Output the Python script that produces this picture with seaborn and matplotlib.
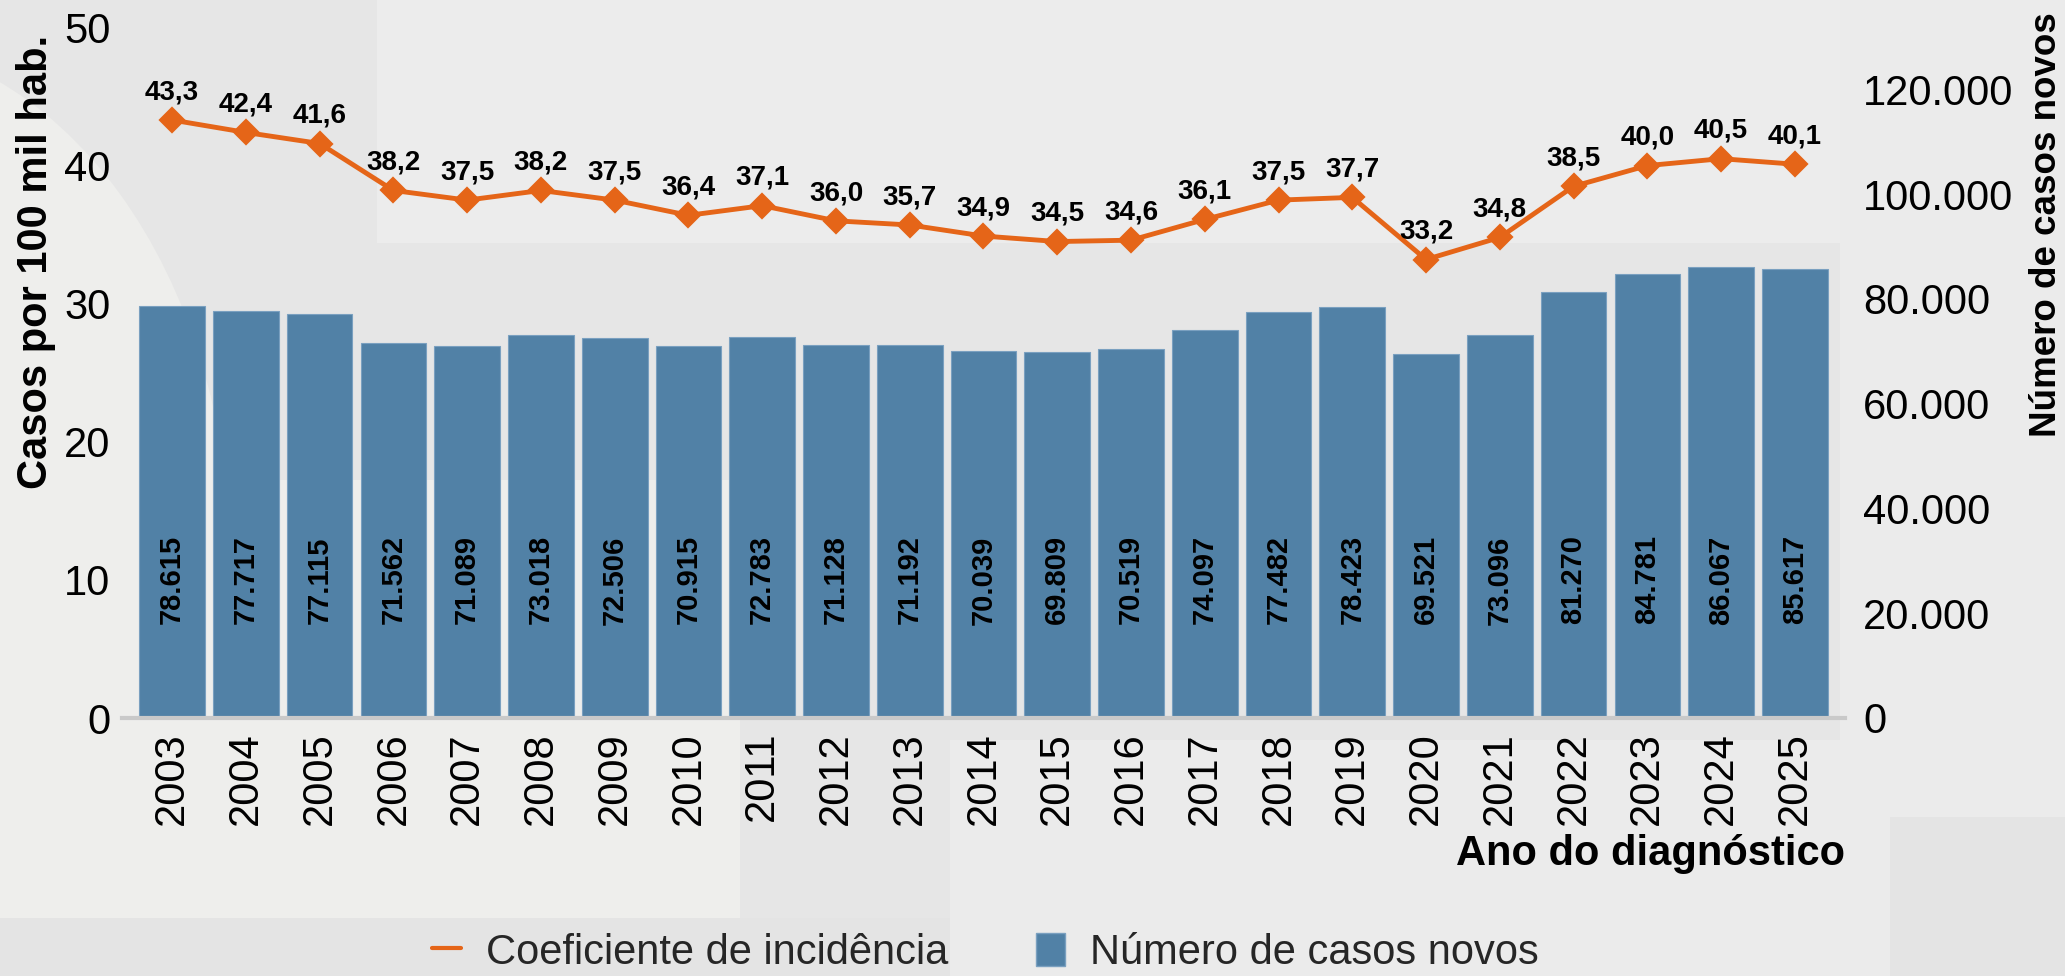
import numpy as np
import pandas as pd
import matplotlib
matplotlib.use("Agg")
import matplotlib.pyplot as plt
from matplotlib.patches import Rectangle, Ellipse, Patch
from matplotlib.lines import Line2D
from matplotlib.ticker import FuncFormatter
import seaborn as sns

# ---- data ----
years = [str(y) for y in range(2003, 2026)]
incidence = [43.3, 42.4, 41.6, 38.2, 37.5, 38.2, 37.5, 36.4, 37.1, 36.0, 35.7,
             34.9, 34.5, 34.6, 36.1, 37.5, 37.7, 33.2, 34.8, 38.5, 40.0, 40.5, 40.1]
new_cases = [78615, 77717, 77115, 71562, 71089, 73018, 72506, 70915, 72783, 71128,
             71192, 70039, 69809, 70519, 74097, 77482, 78423, 69521, 73096, 81270,
             84781, 86067, 85617]
left_ticks = [0, 10, 20, 30, 40, 50]
right_ticks = [0, 20000, 40000, 60000, 80000, 100000, 120000]

df = pd.DataFrame({"ano": years, "coef": incidence, "casos": new_cases})

BAR = "#5181a6"
ORANGE = "#e56518"
FONT = ["Liberation Sans", "DejaVu Sans"]

sns.set_theme(style="white")
plt.rcParams["font.family"] = FONT

W, H = 2065, 976
fig = plt.figure(figsize=(W / 100, H / 100), dpi=100)
fig.patch.set_facecolor("#e6e6e6")

def frect(x0, y0, x1, y1, color, z=-10):
    # pixel coords from top-left -> figure fraction
    fig.patches.append(Rectangle((x0 / W, 1 - y1 / H), (x1 - x0) / W, (y1 - y0) / H,
                                 transform=fig.transFigure, facecolor=color,
                                 edgecolor="none", zorder=z))

# decorative background blocks
frect(377, 0, 1840, 243, "#ececec")
frect(1840, 0, 2065, 976, "#ebebeb")
frect(0, 480, 740, 918, "#eeeeec")
frect(950, 740, 1890, 976, "#ebebeb")
frect(1890, 817, 2065, 976, "#e4e4e4")
fig.patches.append(Ellipse((-150 / W, 1 - 560 / H), 760 / W, 1040 / H,
                           transform=fig.transFigure, facecolor="#eeeeec",
                           edgecolor="none", zorder=-9))
frect(0, 918, 950, 976, "#e4e4e4", z=-8)

ax1 = fig.add_axes([122 / W, 1 - 718 / H, (1845 - 122) / W, (718 - 27.5) / H])
ax2 = ax1.twinx()

# bars (right axis)
sns.barplot(data=df, x="ano", y="casos", ax=ax2, color=BAR, width=0.89,
            saturation=1, edgecolor="#7aa0c0", linewidth=0.8)
# line (left axis)
sns.pointplot(data=df, x="ano", y="coef", ax=ax1, color=ORANGE, markers="D",
              markersize=11, linewidth=3.5)

ax1.set_zorder(ax2.get_zorder() + 1)
ax1.patch.set_visible(False)
ax2.patch.set_visible(False)

n = len(years)
ax1.set_xlim(-0.68, n - 1 + 0.68)
ax1.set_ylim(0, 50)
ax2.set_ylim(0, 131800)

ax1.set_yticks(left_ticks)
ax2.set_yticks(right_ticks)
ax2.yaxis.set_major_formatter(FuncFormatter(lambda v, p: f"{int(v):,}".replace(",", ".")))

for a in (ax1, ax2):
    for s in a.spines.values():
        s.set_visible(False)
    a.grid(False)
ax1.spines["bottom"].set_visible(True)
ax1.spines["bottom"].set_color("#c9c9c9")
ax1.spines["bottom"].set_linewidth(3)

ax1.tick_params(axis="y", length=0, pad=8.5, labelsize=30, labelcolor="black")
ax2.tick_params(axis="y", length=0, pad=13, labelsize=30, labelcolor="black")
ax1.tick_params(axis="x", length=0, pad=10, labelsize=30, labelrotation=90, labelcolor="black")
ax2.tick_params(axis="x", length=0)

# data labels on line
for i, v in enumerate(incidence):
    ax1.annotate(f"{v:.1f}".replace(".", ","), (i, v), xytext=(0, 20),
                 textcoords="offset points", ha="center", va="center",
                 fontsize=20, fontweight="bold", color="black")
# labels inside bars
for i, v in enumerate(new_cases):
    ax1.text(i, 10, f"{v:,}".replace(",", "."), rotation=90, ha="center", va="center",
             fontsize=21, fontweight="bold", color="black")

ax1.set_xlabel("Ano do diagnóstico", fontsize=30, fontweight="bold", color="black")
ax1.xaxis.set_label_coords(1.0, (718 - 854) / (718 - 27.5))
ax1.xaxis.label.set_ha("right")
ax1.xaxis.label.set_va("center")

ax1.set_ylabel("Casos por 100 mil hab.", fontsize=30, fontweight="bold", color="black")
ax1.yaxis.set_label_coords((36 - 122) / (1845 - 122), (718 - 262) / (718 - 27.5))
ax1.yaxis.label.set_va("center")
ax2.set_ylabel("Número de casos novos", fontsize=26.5, fontweight="bold", color="black",
               rotation=90)
ax2.yaxis.set_label_coords((2046 - 122) / (1845 - 122), (718 - 225) / (718 - 27.5))
ax2.yaxis.label.set_va("center")

handles = [Line2D([0], [0], color=ORANGE, lw=3),
           Patch(facecolor=BAR, edgecolor="#7aa0c0")]
fig.legend(handles, ["Coeficiente de incidência", "Número de casos novos"],
           loc="center", bbox_to_anchor=(985 / W, 1 - 953 / H), ncol=2, frameon=False,
           fontsize=30, handlelength=0.7, handleheight=0.85, handletextpad=0.6,
           columnspacing=2.1)

fig.savefig("out.png", dpi=100, facecolor=fig.get_facecolor())
